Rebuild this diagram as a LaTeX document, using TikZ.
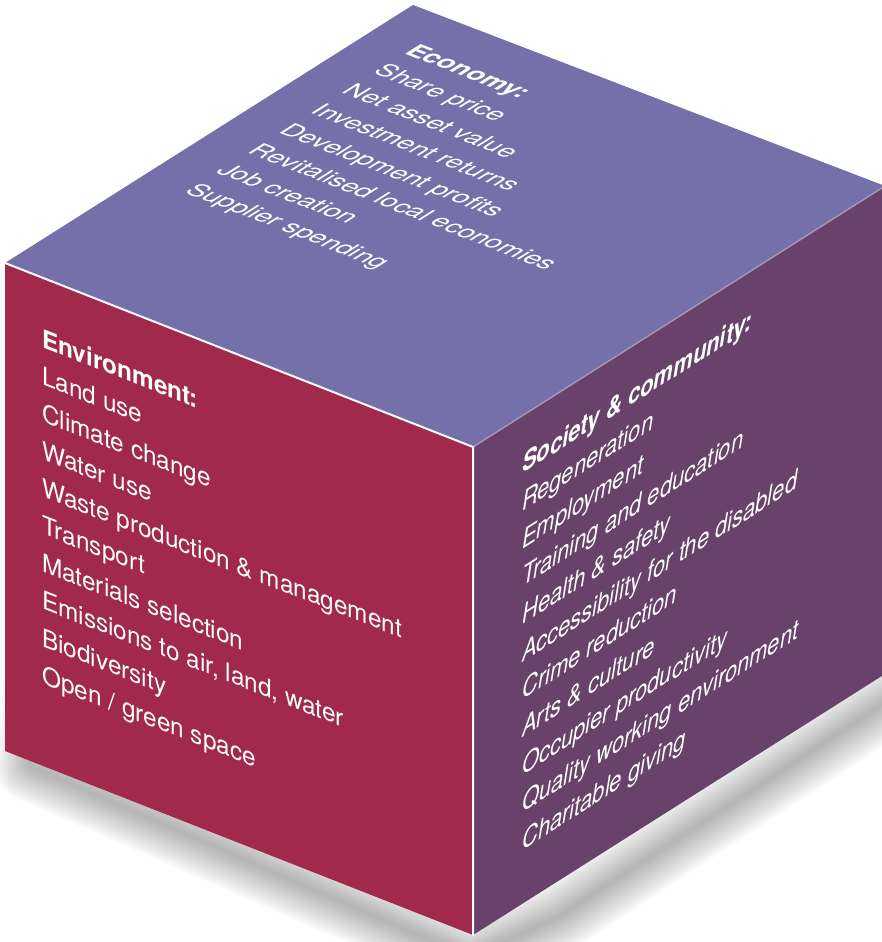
\documentclass[tikz,border=0pt]{standalone}
\usepackage{fontspec}
\setmainfont{TeX Gyre Heros}
\definecolor{econblue}{RGB}{117,112,170}
\definecolor{envred}{RGB}{161,41,75}
\definecolor{socpurple}{RGB}{104,66,106}
\definecolor{ridgegrey}{RGB}{168,150,178}
\tikzset{
    facetext/.style={anchor=base west, inner sep=0pt, text=white, transform shape, font=\fontsize{#1}{#1}\selectfont},
    facetext/.default=28,
    facehead/.style={facetext=#1, font=\fontsize{#1}{#1}\selectfont\bfseries},
    facehead/.default=28,
    socitem/.style={facetext, font=\fontsize{29}{29}\selectfont\itshape},
    sochead/.style={facetext, font=\fontsize{29}{29}\selectfont\bfseries\itshape},
    ridge/.style={line width=2pt, color=white, line cap=round},
    softridge/.style={line width=1.4pt, color=ridgegrey},
    shadowblur/.style={line width=#1, line join=round, black, opacity=0.025}
}

\begin{document}
\begin{tikzpicture}[x=1pt, y=1pt]
    \useasboundingbox (0,0) rectangle (882,942);

    % Cube corners
    \coordinate (BL) at (5,191);
    \coordinate (BF) at (473,7);
    \coordinate (BR) at (885,268);
    \coordinate (L) at (5,679);
    \coordinate (F) at (473,495);
    \coordinate (R) at (885,756);
    \coordinate (T) at (413,937);

    % Shadow outline (top part hides behind the faces)
    \coordinate (s1) at (30,176);
    \coordinate (s2) at (470,-16);
    \coordinate (s3) at (560,26);
    \coordinate (s4) at (905,252);
    \coordinate (s5) at (905,450);
    \coordinate (s6) at (60,450);

    % Soft shadow under the cube, built from wide faint strokes
    \foreach \w in {70,65,...,5}
        \draw[shadowblur=\w pt] (s1) -- (s2) -- (s3) -- (s4) -- (s5) -- (s6) -- cycle;

    % Faces
    \fill[econblue] (L) -- (T) -- (R) -- (F) -- cycle;
    \fill[envred] (BL) -- (L) -- (F) -- (BF) -- cycle;
    \fill[socpurple] (BF) -- (F) -- (R) -- (BR) -- cycle;
    \draw[softridge] (F) -- (R);
    \draw[ridge] (L) -- (F) -- (BF);

    % Top face: economy
    \begin{scope}[cm={0.8699,-0.342,0.7584,0.4796,(5,679)}]
        \node[facehead] (eco0) at (46.8,471.2) {Economy:};
        \foreach \entry [count=\i] in {Share price, Net asset value, Investment returns,
                Development profits, Revitalised local economies, Job creation, Supplier spending}
            \node[facetext] (eco\i) at (46.8,471.2-41.4*\i) {\entry};
    \end{scope}

    % Left face: environment
    \begin{scope}[cm={0.8699,-0.342,0,0.9071,(5,191)}]
        \node[facehead] (env0) at (42.5,461.4) {Environment:};
        \foreach \entry [count=\i] in {Land use, Climate change, Water use,
                Waste production \& management, Transport, Materials selection,
                {Emissions to air, land, water}, Biodiversity, Open / green space}
            \node[facetext] (env\i) at (42.5,461.4-41.2*\i) {\entry};
    \end{scope}

    % Right face: society & community
    \begin{scope}[cm={0.7584,0.4796,0,0.9071,(473,7)}]
        \node[sochead] (soc0) at (64.6,474) {Society \& community:};
        \foreach \entry [count=\i] in {Regeneration, Employment, Training and education,
                Health \& safety, Accessibility for the disabled, Crime reduction,
                Arts \& culture, Occupier productivity, Quality working environment,
                Charitable giving}
            \node[socitem] (soc\i) at (64.6,474-41.5*\i) {\entry};
    \end{scope}
\end{tikzpicture}
\end{document}
